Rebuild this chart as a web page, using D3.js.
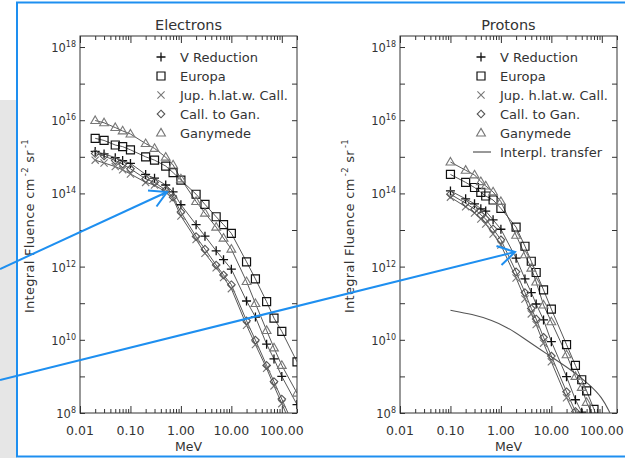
<!DOCTYPE html>
<html><head><meta charset="utf-8">
<script src="https://cdn.jsdelivr.net/npm/d3@7"></script>
<style>body{margin:0;background:#fff}svg{display:block}text{font-family:"DejaVu Sans",sans-serif;fill:#333}</style>
</head><body><svg id="c" width="625" height="458"></svg>
<script>
// ---------- data ----------
const xTickLabels = ["0.01","0.10","1.00","10.00","100.00"];
const xTickValues = [0.01,0.1,1,10,100];
const yLabelExps = [8,10,12,14,16,18];
const seriesNames = ["V Reduction","Europa","Jup. h.lat.w. Call.","Call. to Gan.","Ganymede"];
const interpName = "Interpl. transfer";

const eEnergy = [0.02,0.03,0.05,0.07,0.1,0.2,0.3,0.5,0.7,1,2,3,5,7,10,20,30,50,70,100,200];
const eVRed   = [1.4e15,1.2e15,9.5e14,7.9e14,6.6e14,3.3e14,2.6e14,1.7e14,1.1e14,4.9e13,1.4e13,6.8e12,2.7e12,1.55e12,8.5e11,1.15e11,4.2e10,7.6e9,3.0e9,1.0e9,1.7e8];
const eEuropa = [3.2e15,2.8e15,2.1e15,1.9e15,1.55e15,1.0e15,8.1e14,5.6e14,3.7e14,2.3e14,9.5e13,5.0e13,2.3e13,1.4e13,8.1e12,1.35e12,4.6e11,1.1e11,3.9e10,1.7e10,2.5e9];
const eJup    = [8.1e14,6.8e14,5.4e14,4.4e14,3.4e14,2.0e14,1.7e14,1.1e14,7.1e13,2.4e13,5.5e12,2.3e12,9.3e11,5.0e11,2.5e11,2.5e10,7.4e9,1.66e9,5.5e8,1.8e8,2.0e7];
const eCallGan= [1.23e15,1.05e15,7.9e14,6.3e14,4.7e14,2.5e14,2.0e14,1.23e14,7.9e13,3.1e13,6.6e12,3.0e12,1.1e12,5.9e11,3.2e11,3.3e10,9.8e9,2.0e9,7.2e8,2.4e8,2.8e7];
const eGany   = [9.8e15,8.5e15,6.3e15,5.1e15,4.2e15,2.3e15,1.7e15,9.8e14,6.0e14,2.5e14,6.0e13,2.9e13,1.2e13,6.0e12,3.0e12,3.9e11,9.8e10,1.8e10,6.0e9,2.0e9,3.5e8];

const pEnergy = [0.1,0.2,0.3,0.4,0.5,0.7,1,2,3,4,5,7,10,20,30,40,50,70,100];
const pVRed   = [1.17e14,7.1e13,5.2e13,3.8e13,3.3e13,1.9e13,1.05e13,1.7e12,4.6e11,1.95e11,9.5e10,3.5e10,8.9e9,9.8e8,2.3e8,1.05e8,5e7,1.6e7,5e6];
const pEuropa = [3.3e14,2.0e14,1.45e14,1.07e14,8.5e13,6.6e13,3.9e13,1.2e13,3.6e12,1.4e12,6.9e11,2.3e11,6.9e10,7.4e9,2.0e9,8.1e8,4.0e8,1.26e8,3.2e7];
const pJup    = [7.9e13,4.3e13,2.9e13,2.0e13,1.45e13,7.8e12,3.9e12,4.9e11,1.3e11,5.1e10,2.6e10,8.1e9,2.5e9,2.6e8,8.3e7,3.2e7,1.6e7,5e6,1.6e6];
const pCallGan= [9.5e13,5.4e13,3.7e13,2.6e13,2.0e13,1.07e13,5.4e12,7.2e11,1.95e11,7.2e10,3.7e10,1.17e10,3.6e9,3.8e8,1.1e8,4.5e7,2.2e7,8e6,2.5e6];
const pGany   = [7.2e14,4.3e14,3.2e14,2.1e14,1.6e14,1.1e14,6.0e13,7.2e12,2.1e12,9.1e11,3.8e11,8.9e10,3.1e10,3.9e9,1.0e9,5.0e8,1.95e8,7.4e7,2.5e7];

const interpE = [0.1,0.27,0.68,1.33,2.8,5.8,12.5,26,56,101,145];
const interpF = [6.4e10,5.0e10,3.4e10,2.2e10,1.12e10,5.6e9,2.8e9,1.42e9,6.1e8,2.7e8,1.0e8];

// ---------- drawing ----------
const svg = d3.select("#c");
svg.append("rect").attr("x",0).attr("y",100).attr("width",17).attr("height",358).attr("fill","#e6e6e6");

const sym = {
  plus: "M-4.5,0H4.5M0,-4.5V4.5",
  square: "M-4,-4H4V4H-4Z",
  cross: "M-3.6,-3.6L3.6,3.6M-3.6,3.6L3.6,-3.6",
  diamond: "M0,-3.8L3.8,0L0,3.8L-3.8,0Z",
  triangle: "M0,-4.6L4.4,3L-4.4,3Z"
};
const styles = [
  {sym:"plus", color:"#111", w:1.3},
  {sym:"square", color:"#111", w:1.2},
  {sym:"cross", color:"#777", w:1.1},
  {sym:"diamond", color:"#555", w:1.1},
  {sym:"triangle", color:"#777", w:1.1}
];

const yDomain = [1e8, 2e18];
const xDomain = [0.01, 200];
const plotTop = 36, plotBottom = 413;

function minorTicks(){
  const t=[];
  for (let d=-2; d<=2; d++) for (let m=2; m<=9; m++){ const v=m*Math.pow(10,d); if (v<=200.0001) t.push(v);} 
  return t;
}

function panel(opts){
  const {left,right,title,energy,series,interp,id,ytitleX,legendX} = opts;
  const x = d3.scaleLog().domain(xDomain).range([left,right]);
  const y = d3.scaleLog().domain(yDomain).range([plotBottom,plotTop]);
  const g = svg.append("g");
  g.append("clipPath").attr("id",id).append("rect").attr("x",left).attr("y",plotTop).attr("width",right-left).attr("height",plotBottom-plotTop);

  const tk = (sel)=>{ sel.select(".domain").remove(); sel.selectAll("line").attr("stroke","#333"); };
  g.append("g").attr("transform",`translate(0,${plotBottom})`).call(d3.axisBottom(x).tickValues(minorTicks()).tickSize(-4).tickFormat("")).call(tk);
  g.append("g").attr("transform",`translate(0,${plotBottom})`).call(d3.axisBottom(x).tickValues(xTickValues).tickSize(-7).tickFormat("")).call(tk);
  g.append("g").attr("transform",`translate(0,${plotTop})`).call(d3.axisTop(x).tickValues(minorTicks()).tickSize(-4).tickFormat("")).call(tk);
  g.append("g").attr("transform",`translate(0,${plotTop})`).call(d3.axisTop(x).tickValues(xTickValues).tickSize(-7).tickFormat("")).call(tk);
  const decades = d3.range(8,19).map(e=>Math.pow(10,e));
  g.append("g").attr("transform",`translate(${left},0)`).call(d3.axisLeft(y).tickValues(decades).tickSize(-5).tickFormat("")).call(tk);
  g.append("g").attr("transform",`translate(${right},0)`).call(d3.axisRight(y).tickValues(decades).tickSize(-5).tickFormat("")).call(tk);
  g.append("rect").attr("x",left).attr("y",plotTop).attr("width",right-left).attr("height",plotBottom-plotTop).attr("fill","none").attr("stroke","#333").attr("stroke-width",1);

  g.selectAll(".xl").data(xTickValues).join("text").attr("x",d=>x(d)).attr("y",435).attr("text-anchor","middle").attr("font-size",12.5).text((d,i)=>xTickLabels[i]);
  g.append("text").attr("x",(left+right)/2).attr("y",451).attr("text-anchor","middle").attr("font-size",12.5).text("MeV");
  yLabelExps.forEach(e=>{
    const t = g.append("text").attr("x",left-4).attr("y",y(Math.pow(10,e))+5).attr("text-anchor","end");
    t.append("tspan").attr("font-size",11.5).text("10");
    t.append("tspan").attr("font-size",8).attr("dy",-5).text(e);
  });
  const yt = g.append("text").attr("transform",`translate(${ytitleX},226) rotate(-90)`).attr("text-anchor","middle").attr("font-size",13).attr("letter-spacing",0.3);
  yt.append("tspan").text("Integral Fluence cm");
  yt.append("tspan").attr("font-size",8.5).attr("dy",-6).attr("dx",2).text("-2");
  yt.append("tspan").attr("dy",6).text(" sr");
  yt.append("tspan").attr("font-size",8.5).attr("dy",-6).attr("dx",2).text("-1");
  g.append("text").attr("x",(left+right)/2).attr("y",30).attr("text-anchor","middle").attr("font-size",14.5).text(title);

  const plot = g.append("g").attr("clip-path",`url(#${id})`);
  const line = d3.line().x(d=>x(d[0])).y(d=>y(d[1]));
  if (interp){
    plot.append("path").attr("d",d3.line().x(d=>x(d[0])).y(d=>y(d[1])).curve(d3.curveBasis)(interp[0].map((e,i)=>[e,interp[1][i]])))
      .attr("fill","none").attr("stroke","#555").attr("stroke-width",1.1);
  }
  series.forEach((vals)=>{
    const pts = energy.map((e,i)=>[e,vals[i]]);
    plot.append("path").attr("d",line(pts)).attr("fill","none").attr("stroke","#444").attr("stroke-width",0.9);
  });
  series.forEach((vals,si)=>{
    const st = styles[si];
    const pts = energy.map((e,i)=>[e,vals[i]]);
    plot.selectAll(null).data(pts).join("path").attr("transform",d=>`translate(${x(d[0])},${y(d[1])})`)
      .attr("d",sym[st.sym]).attr("fill","none").attr("stroke",st.color).attr("stroke-width",st.w);
  });

  const rows = seriesNames.slice();
  if (interp) rows.push(interpName);
  rows.forEach((name,i)=>{
    const cy = 57 + i*19;
    if (i<5){
      const st = styles[i];
      g.append("path").attr("transform",`translate(${legendX},${cy})`).attr("d",sym[st.sym]).attr("fill","none").attr("stroke",st.color).attr("stroke-width",st.w);
    } else {
      g.append("line").attr("x1",legendX-8).attr("x2",legendX+10).attr("y1",cy).attr("y2",cy).attr("stroke","#333").attr("stroke-width",1);
    }
    g.append("text").attr("x",legendX+19).attr("y",cy+4.5).attr("font-size",13).text(name);
  });
}

panel({left:80,right:297,title:"Electrons",energy:eEnergy,series:[eVRed,eEuropa,eJup,eCallGan,eGany],interp:null,id:"clipL",ytitleX:34,legendX:161});
panel({left:400,right:617,title:"Protons",energy:pEnergy,series:[pVRed,pEuropa,pJup,pCallGan,pGany],interp:[interpE,interpF],id:"clipR",ytitleX:354,legendX:481});

const blue = "#1e8ff0";
svg.append("rect").attr("x",17).attr("y",2.5).attr("width",620).attr("height",454).attr("fill","none").attr("stroke",blue).attr("stroke-width",2);
function arrow(x1,y1,x2,y2,b1,b2){
  svg.append("line").attr("x1",x1).attr("y1",y1).attr("x2",x2).attr("y2",y2).attr("stroke",blue).attr("stroke-width",2);
  svg.append("path").attr("d",`M${b1[0]},${b1[1]}L${x2},${y2}L${b2[0]},${b2[1]}`).attr("fill","none").attr("stroke",blue).attr("stroke-width",2);
}
arrow(0,269,167,192,[148,190.5],[156.5,206.5]);
arrow(0,380,515,252,[496.5,246],[501.5,265]);
</script></body></html>
